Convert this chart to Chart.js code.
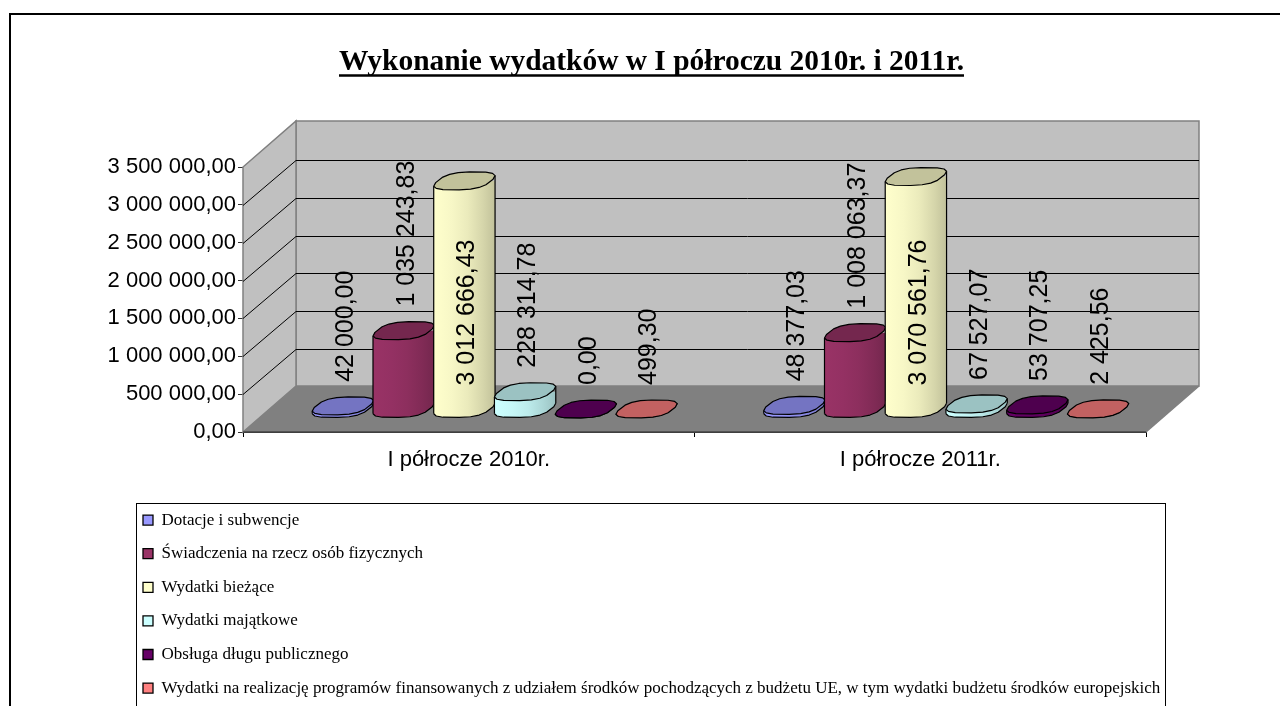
<!DOCTYPE html>
<html lang="pl"><head><meta charset="utf-8">
<style>html,body{margin:0;padding:0;background:#fff;overflow:hidden}canvas{display:block}</style>
<script src="https://cdn.jsdelivr.net/npm/chart.js@4/dist/chart.umd.js"></script>
</head><body><canvas id="c" width="1280" height="706"></canvas>
<script>
const chartTitle = 'Wykonanie wydatków w I półroczu 2010r. i 2011r.';
const categories = ['I półrocze 2010r.', 'I półrocze 2011r.'];
const seriesNames = ['Dotacje i subwencje','Świadczenia na rzecz osób fizycznych','Wydatki bieżące','Wydatki majątkowe','Obsługa długu publicznego','Wydatki na realizację programów finansowanych z udziałem środków pochodzących z budżetu UE, w tym wydatki budżetu środków europejskich'];
const dotacje = [42000.00, 48377.03];
const swiadczenia = [1035243.83, 1008063.37];
const biezace = [3012666.43, 3070561.76];
const majatkowe = [228314.78, 67527.07];
const obsluga = [0.00, 53707.25];
const programy = [499.30, 2425.56];
const seriesValues = [dotacje, swiadczenia, biezace, majatkowe, obsluga, programy];
const seriesRgb = [[153,153,255],[153,51,102],[255,255,204],[204,255,255],[102,0,102],[255,128,128]];

const fmt = v => { const [i,d] = Math.abs(v).toFixed(2).split('.'); return i.replace(/\B(?=(\d{3})+$)/g,' ') + ',' + d; };
const shade = (c,k) => `rgb(${c.map(v=>Math.round(v*k)).join(',')})`;
const DEPTH = {x:53, y:-46};
const MID = {x:26, y:-23};
const CAT_PCT = 0.807;
const SKEW = 5.3;
function bodyGrad(ctx, x0, x1, rgb){
  const g = ctx.createLinearGradient(x0,0,x1,0);
  [[0,1],[.3,.97],[.55,.92],[.8,.84],[1,.76]].forEach(([p,k])=>g.addColorStop(p,shade(rgb,k)));
  return g;
}
const spow = v => Math.sign(v)*Math.pow(Math.abs(v),.7);
function ringPoints(cx,cy,w,from,to){
  const b=10.4, h=9, a=w/2-3.9, pts=[];
  for(let s=from;s<=to;s++){
    const t=(28+s*22.5)*Math.PI/180, u=spow(Math.cos(t)), v=spow(Math.sin(t));
    pts.push([cx+a*u+b*v, cy-h*v]);
  }
  return pts;
}
function trace(ctx,pts,close){
  ctx.beginPath();
  pts.forEach((p,i)=>i?ctx.lineTo(p[0],p[1]):ctx.moveTo(p[0],p[1]));
  if(close)ctx.closePath();
}
const scene = {
  id:'scene',
  afterLayout(chart){
    const t=chart.titleBlock; t.left=339; t.right=964;
    const l=chart.legend; l.left=126.4; l.right=1165; l.top=495; l.bottom=900;
  },
  beforeDraw(chart){
    const c=chart.ctx; c.save();
    c.fillStyle='#fff'; c.fillRect(0,0,1280,706);
    c.strokeStyle='#000'; c.lineWidth=2; c.strokeRect(10,14,1300,760);
    c.lineWidth=1; c.strokeRect(136.5,503.5,1029,300);
    c.restore();
  },
  afterDraw(chart){
    const c=chart.ctx;
    c.save(); c.strokeStyle='#000'; c.lineWidth=2.4;
    c.beginPath(); c.moveTo(339,75.5); c.lineTo(964,75.5); c.stroke(); c.restore();
  },
  beforeDatasetsDraw(chart){
    const c=chart.ctx, a=chart.chartArea, y=chart.scales.y; c.save();
    const B={x:a.left+DEPTH.x,t:a.top+DEPTH.y,b:a.bottom+DEPTH.y,r:a.right+DEPTH.x};
    c.strokeStyle='#808080'; c.lineWidth=1.5;
    c.fillStyle='#c0c0c0';
    c.beginPath(); c.rect(B.x,B.t,B.r-B.x,B.b-B.t); c.fill(); c.stroke();
    c.beginPath(); c.moveTo(a.left,a.bottom); c.lineTo(a.left,a.top); c.lineTo(B.x,B.t); c.lineTo(B.x,B.b); c.closePath(); c.fill(); c.stroke();
    c.fillStyle='#808080';
    c.beginPath(); c.moveTo(a.left,a.bottom); c.lineTo(a.right,a.bottom); c.lineTo(B.r,B.b); c.lineTo(B.x,B.b); c.closePath(); c.fill();
    c.strokeStyle='#000'; c.lineWidth=1;
    y.ticks.forEach(t=>{
      if(t.value===0||t.value===y.max) return;
      const p=Math.round(y.getPixelForValue(t.value))+.5;
      c.beginPath(); c.moveTo(a.left,p); c.lineTo(B.x,p+DEPTH.y+1); c.lineTo(B.r,p+DEPTH.y+1); c.stroke();
    });
    c.strokeStyle='#808080'; c.lineWidth=1.5;
    c.beginPath(); c.moveTo(B.r,B.b); c.lineTo(a.right,a.bottom); c.stroke();
    c.strokeStyle='#444'; c.beginPath(); c.moveTo(a.left,a.bottom); c.lineTo(a.right,a.bottom); c.stroke();
    c.restore();
  },
  // The library's own per-dataset pass paints the last series first; the
  // cylinders need the first series first, so its elements are drawn below.
  beforeDatasetDraw(){ return false; },
  afterDatasetsDraw(chart){
    const c=chart.ctx, a=chart.chartArea;
    chart.data.datasets.forEach((ds,i)=>{
      const meta=chart.getDatasetMeta(i), rgb=seriesRgb[i];
      c.save(); c.translate(MID.x,MID.y);
      c.strokeStyle='#000'; c.lineWidth=1.2; c.lineJoin='round';
      meta.data.forEach(el=>{
        const w=el.width, base=el.base, top=el.y, L=el.x-w/2, R=el.x+w/2;
        const low=ringPoints(el.x,base,w,8,16);
        c.save();
        trace(c,low.concat([[R,base-SKEW],[R,top-SKEW],[L,top+SKEW],[L,base+SKEW]]),true);
        c.clip();
        el.draw(c);
        c.fillStyle=bodyGrad(c,L,R,rgb);
        c.fillRect(L-1,base-SKEW-2,w+2,30);
        c.restore();
        trace(c,low,false); c.stroke();
        if(base-top>1){
          c.beginPath(); c.moveTo(L,top+SKEW); c.lineTo(L,base+SKEW);
          c.moveTo(R,top-SKEW); c.lineTo(R,base-SKEW); c.stroke();
        }
        const cap=ringPoints(el.x,top,w,0,15);
        c.fillStyle=shade(rgb,.76);
        trace(c,cap,true); c.fill(); c.stroke();
      });
      c.restore();
    });
    c.save();
    c.fillStyle='#000'; c.font='25px "Liberation Sans"'; c.textAlign='left'; c.textBaseline='middle';
    chart.data.datasets.forEach((ds,i)=>{
      chart.getDatasetMeta(i).data.forEach((el,j)=>{
        const txt=fmt(ds.data[j]), len=c.measureText(txt).width;
        let bottom=el.y+MID.y-24;
        if(bottom-len<a.top+DEPTH.y) bottom=el.base+MID.y-23;
        c.save(); c.translate(el.x+MID.x+3,bottom); c.rotate(-Math.PI/2); c.fillText(txt,0,0); c.restore();
      });
    });
    c.restore();
  }
};
new Chart(document.getElementById('c'),{
  type:'bar',
  plugins:[scene],
  data:{
    labels:categories,
    datasets:seriesNames.map((n,i)=>({
      label:n, data:seriesValues[i],
      backgroundColor:c=>{
        const flat=shade(seriesRgb[i],1);
        if(c.dataIndex===undefined) return flat;
        const sx=c.chart.scales.x;
        if(!sx||!isFinite(sx.width)) return flat;
        const ctr=sx.getPixelForValue(c.dataIndex), p=sx.width/2*CAT_PCT/6;
        const x0=ctr+(i-3)*p;
        if(!isFinite(x0)||!isFinite(p)) return flat;
        return bodyGrad(c.chart.ctx,x0,x0+p,seriesRgb[i]);
      },
      borderWidth:0, barPercentage:1.01, categoryPercentage:CAT_PCT, clip:false
    }))
  },
  options:{
    responsive:false, animation:false,
    layout:{padding:{left:0,top:0,right:134,bottom:0}},
    scales:{
      x:{
        afterFit:s=>{s.height=274},
        grid:{offset:true,drawOnChartArea:false,color:'#000',tickLength:5,tickColor:'#000'},
        border:{color:'#333'},
        ticks:{color:'#000',font:{family:'"Liberation Sans"',size:22},padding:10,maxRotation:0}
      },
      y:{
        min:0,max:3500000,
        afterFit:s=>{s.width=243},
        grid:{drawOnChartArea:false,tickLength:5,tickColor:'#333'},
        border:{color:'#555'},
        ticks:{stepSize:500000,color:'#000',font:{family:'"Liberation Sans"',size:22},padding:2,callback:v=>fmt(v)}
      }
    },
    plugins:{
      tooltip:{enabled:false},
      title:{display:true,text:chartTitle,color:'#000',font:{family:'"Liberation Serif"',size:30,weight:'bold'},padding:{top:44,bottom:87}},
      legend:{
        position:'chartArea',align:'start',
        labels:{
          color:'#000',boxWidth:10,boxHeight:10,padding:16.6,font:{family:'"Liberation Serif"',size:17},
          generateLabels:ch=>Chart.defaults.plugins.legend.labels.generateLabels(ch).map(it=>({...it,strokeStyle:'#000',lineWidth:1.3,hidden:false}))
        }
      }
    }
  }
});
</script></body></html>
